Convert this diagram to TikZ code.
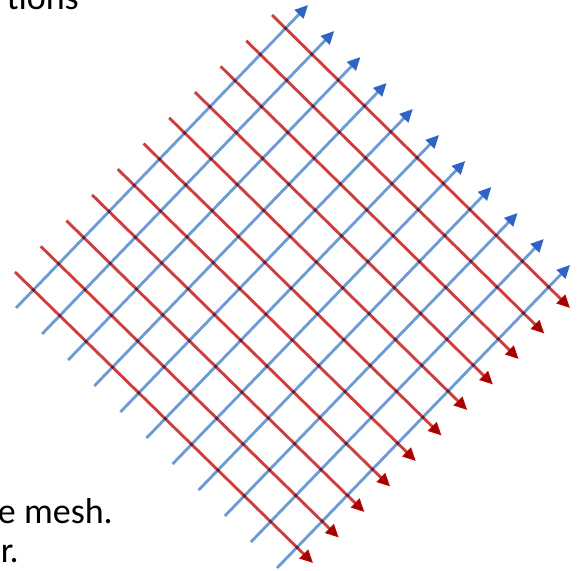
\documentclass[tikz,border=0pt]{standalone}
\usepackage{fontspec}
\setmainfont{Carlito}
\usetikzlibrary{arrows.meta}
\definecolor{bline}{RGB}{105,155,220}
\definecolor{bhead}{RGB}{45,100,200}
\definecolor{rline}{RGB}{218,55,55}
\definecolor{rhead}{RGB}{195,0,0}
\tikzset{
  blueline/.style={draw=bline, line width=2.8pt, -{Triangle[length=13pt,width=12pt,fill=bhead,color=bhead]}},
  redline/.style={draw=rline, line width=2.8pt, -{Triangle[length=13pt,width=12pt,fill=rhead,color=rhead]}},
  txt/.style={inner sep=0pt, anchor=base east, font=\fontsize{36}{43}\selectfont, text=black}
}
\begin{document}
\begin{tikzpicture}[x=1pt,y=-1pt]
\useasboundingbox (0,0) rectangle (577,570);
\clip (0,0) rectangle (577,570);
\fill[white] (0,0) rectangle (577,570);
\node[txt] (t1) at (79,9.5) {tions};
\node[txt] (t2) at (113,523) {e mesh.};
\node[txt] (t3) at (19,562) {r.};
\foreach \i in {0,...,10} {
  \coordinate (bs\i) at ({16+26.1*\i},{308+26*\i});
  \coordinate (be\i) at ({308+26.2*\i},{5+26*\i});
  \draw[blueline] (bs\i) -- (be\i);
}
\begin{scope}[blend mode=multiply]
\foreach \i in {0,...,10} {
  \coordinate (rs\i) at ({272-25.7*\i},{15+25.7*\i});
  \coordinate (re\i) at ({570-25.7*\i},{308+25.5*\i});
  \draw[redline] (rs\i) -- (re\i);
}
\end{scope}
\end{tikzpicture}
\end{document}
